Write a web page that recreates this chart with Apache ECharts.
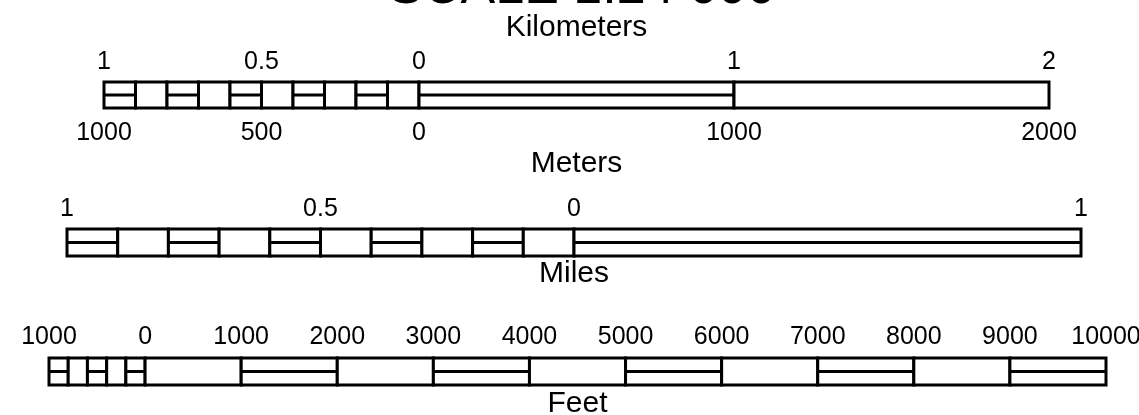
<!DOCTYPE html>
<html>
<head>
<meta charset="utf-8">
<script src="https://cdn.jsdelivr.net/npm/echarts@6/dist/echarts.min.js"></script>
<style>
html,body{margin:0;padding:0;background:#fff;}
#chart{width:1139px;height:415px;}
</style>
</head>
<body>
<div id="chart"></div>
<script>
// Scale bar definitions
const titleText = 'SCALE 1:24 000';

// Kilometers / meters bar
const kmBreaks = [-1, -0.9, -0.8, -0.7, -0.6, -0.5, -0.4, -0.3, -0.2, -0.1, 0, 1, 2];
const kmMid = [1, 0, 1, 0, 1, 0, 1, 0, 1, 0, 1, 0];
const kmTickLabels = [-1, -0.5, 0, 1, 2];
const mTickLabels = [-1000, -500, 0, 1000, 2000];

// Miles bar
const miBreaks = [-1, -0.9, -0.8, -0.7, -0.6, -0.5, -0.4, -0.3, -0.2, -0.1, 0, 1];
const miMid = [1, 0, 1, 0, 1, 0, 1, 0, 1, 0, 1];
const miTickLabels = [-1, -0.5, 0, 1];

// Feet bar
const ftBreaks = [-1000, -800, -600, -400, -200, 0, 1000, 2000, 3000, 4000, 5000, 6000, 7000, 8000, 9000, 10000];
const ftMid = [1, 0, 1, 0, 1, 0, 1, 0, 1, 0, 1, 0, 1, 0, 1];
const ftTickLabels = [-1000, 0, 1000, 2000, 3000, 4000, 5000, 6000, 7000, 8000, 9000, 10000];

const FONT = 'Liberation Sans, Arial, sans-serif';

function segs(breaks, mid) {
  const out = [];
  for (let i = 0; i < breaks.length - 1; i++) out.push([breaks[i], breaks[i + 1], mid[i]]);
  return out;
}

function renderItem(params, api) {
  const x0 = api.value(0), x1 = api.value(1), m = api.value(2);
  const p0 = api.coord([x0, 1]);
  const p1 = api.coord([x1, 0]);
  const children = [{
    type: 'rect',
    shape: { x: p0[0], y: p0[1], width: p1[0] - p0[0], height: p1[1] - p0[1] },
    style: { fill: '#fff', stroke: '#000', lineWidth: 3 }
  }];
  if (m) {
    const a = api.coord([x0, 0.5]);
    const b = api.coord([x1, 0.5]);
    children.push({
      type: 'line',
      shape: { x1: a[0], y1: a[1], x2: b[0], y2: b[1] },
      style: { stroke: '#000', lineWidth: 3 }
    });
  }
  return { type: 'group', children: children };
}

function labelFmt(list) {
  return function (v) {
    for (const t of list) if (Math.abs(t - v) < 1e-9) return String(Math.abs(t));
    return '';
  };
}

function xAx(grid, pos, min, max, interval, labels, name, nameGap, showLabels, margin) {
  return {
    type: 'value', gridIndex: grid, position: pos, min: min, max: max, interval: interval,
    axisLine: { show: false }, axisTick: { show: false }, splitLine: { show: false },
    axisLabel: { show: showLabels, margin: margin, fontSize: 25, color: '#000', fontFamily: FONT, formatter: labelFmt(labels) },
    name: name, nameLocation: 'middle', nameGap: nameGap,
    nameTextStyle: { fontSize: 30, color: '#000', fontFamily: FONT }
  };
}

const chart = echarts.init(document.getElementById('chart'));
chart.setOption({
  animation: false,
  backgroundColor: '#fff',
  graphic: [{
    type: 'text', x: 582, y: -11,
    style: { text: titleText, fontSize: 52, fontFamily: FONT, fill: '#000', align: 'center', verticalAlign: 'middle' }
  }],
  grid: [
    { left: 104, right: 90, top: 82, height: 26, outerBoundsMode: 'none', containLabel: false },
    { left: 67, right: 58, top: 229, height: 27, outerBoundsMode: 'none', containLabel: false },
    { left: 49, right: 33, top: 358, height: 27, outerBoundsMode: 'none', containLabel: false }
  ],
  xAxis: [
    xAx(0, 'top', -1, 2, 0.5, kmTickLabels, 'Kilometers', 39, true, 7),
    xAx(0, 'bottom', -1000, 2000, 500, mTickLabels, 'Meters', 41, true, 13),
    xAx(1, 'top', -1, 1, 0.5, miTickLabels, '', 0, true, 7),
    xAx(1, 'bottom', -1, 1, 0.5, [], 'Miles', 3, false, 8),
    xAx(2, 'top', -1000, 10000, 1000, ftTickLabels, '', 0, true, 8),
    xAx(2, 'bottom', -1000, 10000, 1000, [], 'Feet', 4, false, 8)
  ],
  yAxis: [
    { type: 'value', gridIndex: 0, min: 0, max: 1, show: false },
    { type: 'value', gridIndex: 1, min: 0, max: 1, show: false },
    { type: 'value', gridIndex: 2, min: 0, max: 1, show: false }
  ],
  series: [
    { type: 'custom', xAxisIndex: 0, yAxisIndex: 0, renderItem: renderItem, encode: { x: [0, 1] }, data: segs(kmBreaks, kmMid), clip: false },
    { type: 'custom', xAxisIndex: 2, yAxisIndex: 1, renderItem: renderItem, encode: { x: [0, 1] }, data: segs(miBreaks, miMid), clip: false },
    { type: 'custom', xAxisIndex: 4, yAxisIndex: 2, renderItem: renderItem, encode: { x: [0, 1] }, data: segs(ftBreaks, ftMid), clip: false }
  ]
});
</script>
</body>
</html>
